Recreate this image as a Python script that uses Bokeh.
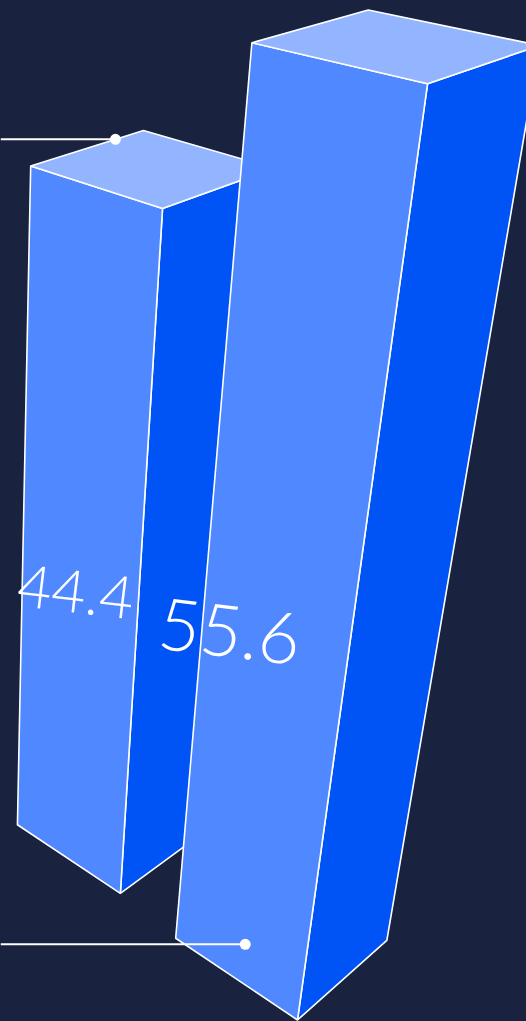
import numpy as np
from bokeh.plotting import figure
from bokeh.models import Range1d, ColumnDataSource, GlobalInlineStyleSheet
from bokeh.core.properties import value
from bokeh.embed import file_html
from bokeh.resources import INLINE

# ---------------- data ----------------
categories = ["A", "B"]
values = [44.4, 55.6]
labels = ["44.4", "55.6"]

# ---------------- style ----------------
BG = "#19223f"
FRONT = "#4f88ff"
SIDE = "#0053f5"
TOP = "#93b5ff"
EDGE = "white"
W, H = 526, 1021
LABEL_ALONG = [0.52, 0.80]      # label anchor along the front face (fraction of base)
LABEL_HEIGHT = [0.452, 0.432]   # label anchor height (fraction of bar height)

# ---------------- 3D camera (three-point perspective) ----------------
CX, CY, FOC = -8.0, 507.0, 1662.0


def unit(v):
    v = np.asarray(v, float)
    return v / np.linalg.norm(v)


ROW = unit([-0.703, -0.358, 0.614])            # direction along the row of bars
DEPTH = unit([0.7115, -0.344, 0.6127])
DEPTH = unit(DEPTH - DEPTH.dot(ROW) * ROW)     # depth axis (orthogonal)
UP = np.cross(DEPTH, ROW)                       # world up

ORIGIN = np.array([305.0, 512.5, 1662.0])       # front-bottom corner of last bar
SIZE = 158.0                                    # square base edge
STEP = 244.0 * ROW + 9.0 * DEPTH                # spacing between bars
HSCALE = 14.2                                   # height units per value unit
VMIN = -10.7                                    # value at ground level


def proj(P):
    P = np.asarray(P, float)
    return CX + FOC * P[0] / P[2], CY + FOC * P[1] / P[2]


def poly(points):
    xs, ys = zip(*[proj(p) for p in points])
    return list(xs), list(ys)


n = len(values)
front_xs, front_ys, side_xs, side_ys, top_xs, top_ys = [], [], [], [], [], []
lab_x, lab_y, lab_size = [], [], []
corners = []
for i, v in enumerate(values):
    fb = ORIGIN + (n - 1 - i) * STEP
    h = HSCALE * (v - VMIN)
    ft = fb + h * UP
    fx, fy = poly([fb + SIZE * ROW, fb, ft, ft + SIZE * ROW])
    sx, sy = poly([fb, fb + SIZE * DEPTH, ft + SIZE * DEPTH, ft])
    tx, ty = poly([ft, ft + SIZE * ROW, ft + SIZE * ROW + SIZE * DEPTH, ft + SIZE * DEPTH])
    front_xs.append(fx); front_ys.append(fy)
    side_xs.append(sx); side_ys.append(sy)
    top_xs.append(tx); top_ys.append(ty)
    anchor = fb + LABEL_ALONG[i] * SIZE * ROW + LABEL_HEIGHT[i] * h * UP
    ax, ay = proj(anchor)
    lab_x.append(ax); lab_y.append(ay)
    lab_size.append("%dpx" % round(1.70e8 / anchor[2] ** 2))
    corners.append((fb, ft))

p = figure(width=W, height=H, x_range=Range1d(0, W), y_range=Range1d(H, 0),
           output_backend="svg", toolbar_location=None, min_border=0,
           x_axis_type=None, y_axis_type=None,
           background_fill_color=BG, border_fill_color=BG, outline_line_color=None)
p.grid.visible = False
p.stylesheets = [GlobalInlineStyleSheet(
    css="html,body{margin:0!important;padding:0;background:%s;overflow:hidden;}" % BG)]

# draw bars back to front
for i in range(n):
    p.patch(side_xs[i], side_ys[i], fill_color=SIDE, line_color=EDGE, line_width=1.6)
    p.patch(front_xs[i], front_ys[i], fill_color=FRONT, line_color=EDGE, line_width=1.6)
    p.patch(top_xs[i], top_ys[i], fill_color=TOP, line_color=EDGE, line_width=1.6)

# leader lines with dots
fb0, ft0 = corners[0]
fb1, ft1 = corners[-1]
d_top = ft0 + SIZE * ROW + 0.74 * SIZE * DEPTH
d_bot = fb1 + 0.64 * SIZE * ROW + 0.29 * SIZE * DEPTH
for pt in (d_top, d_bot):
    x, y = proj(pt)
    p.line([0, x], [y, y], line_color=EDGE, line_width=2)
    p.scatter([x], [y], size=11, fill_color=EDGE, line_color=None)

src = ColumnDataSource(dict(x=lab_x, y=lab_y, t=labels, s=lab_size))
p.text(x="x", y="y", text="t", source=src, text_font=value("Lato Light"),
       text_font_size="s", text_color="white", text_align="center",
       text_baseline="middle", angle=-0.12)

open("out.html", "w").write(file_html(p, INLINE))
